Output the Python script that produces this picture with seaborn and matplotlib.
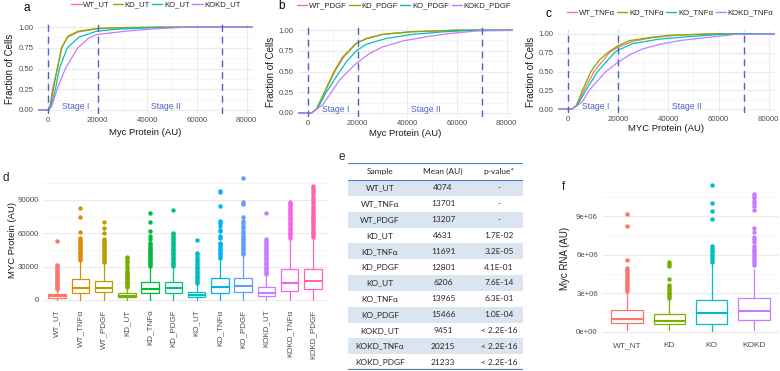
import numpy as np
import pandas as pd
import matplotlib
matplotlib.use("Agg")
import matplotlib.pyplot as plt
import seaborn as sns
from matplotlib.lines import Line2D
from matplotlib.ticker import FixedLocator

# ---------------- DATA ----------------
C4 = ['#F8766D', '#7CAE00', '#00BFC4', '#C77CFF']
C12 = ['#F8766D', '#DE8C00', '#B79F00', '#7CAE00', '#00BA38', '#00C08B',
       '#00BFC4', '#00B4F0', '#619CFF', '#C77CFF', '#F564E3', '#FF64B0']

stage_bounds = [0, 20000, 70000]

# ECDF readings, panel a (untreated)
ut_names = ['WT_UT', 'KD_UT', 'KO_UT', 'KOKD_UT']
wt_ut_x = [-6000, 300, 1000, 1800, 3900, 5400, 8000, 12000, 20000, 30000, 45000, 90000]
wt_ut_y = [0, 0, 0.06, 0.25, 0.50, 0.75, 0.88, 0.94, 0.98, 0.99, 1.0, 1.0]
kd_ut_x = [-6000, 300, 1000, 2200, 3700, 5600, 8000, 12000, 20000, 30000, 45000, 90000]
kd_ut_y = [0, 0, 0.06, 0.25, 0.50, 0.75, 0.89, 0.95, 0.985, 0.995, 1.0, 1.0]
ko_ut_x = [-6000, 300, 1200, 3000, 4600, 7800, 12500, 19500, 28000, 40000, 55000, 90000]
ko_ut_y = [0, 0, 0.05, 0.25, 0.50, 0.75, 0.88, 0.95, 0.975, 0.99, 1.0, 1.0]
kokd_ut_x = [-6000, 300, 1500, 3700, 7000, 12000, 16500, 19500, 31000, 43000, 56000, 90000]
kokd_ut_y = [0, 0, 0.04, 0.25, 0.50, 0.75, 0.87, 0.91, 0.95, 0.98, 1.0, 1.0]

# ECDF readings, panel b (PDGF)
pdgf_names = ['WT_PDGF', 'KD_PDGF', 'KO_PDGF', 'KOKD_PDGF']
wt_pdgf_x = [-6000, 1500, 3500, 6800, 10800, 14300, 19500, 23500, 30000, 41000, 60000, 90000]
wt_pdgf_y = [0, 0, 0.05, 0.25, 0.50, 0.67, 0.84, 0.90, 0.95, 0.98, 1.0, 1.0]
kd_pdgf_x = [-6000, 1500, 3500, 6600, 10500, 13800, 19500, 24000, 30500, 42000, 60000, 90000]
kd_pdgf_y = [0, 0, 0.05, 0.25, 0.50, 0.67, 0.845, 0.90, 0.95, 0.98, 1.0, 1.0]
ko_pdgf_x = [-6000, 1500, 3800, 7400, 12800, 15500, 19500, 23500, 31600, 42400, 54500, 68000, 90000]
ko_pdgf_y = [0, 0, 0.05, 0.25, 0.50, 0.62, 0.75, 0.83, 0.90, 0.95, 0.98, 1.0, 1.0]
kokd_pdgf_x = [-6000, 1500, 6000, 9400, 12800, 16100, 19500, 24900, 30300, 38300, 47700, 57200, 67900, 90000]
kokd_pdgf_y = [0, 0, 0.10, 0.25, 0.40, 0.50, 0.60, 0.72, 0.80, 0.87, 0.92, 0.96, 0.99, 1.0]

# ECDF readings, panel c (TNFa)
tnf_names = ['WT_TNF\u03b1', 'KD_TNF\u03b1', 'KO_TNF\u03b1', 'KOKD_TNF\u03b1']
wt_tnf_x = [-6000, 1500, 3500, 6400, 10400, 16500, 19800, 25800, 33800, 43000, 60000, 90000]
wt_tnf_y = [0, 0, 0.05, 0.25, 0.50, 0.75, 0.82, 0.90, 0.95, 0.98, 1.0, 1.0]
kd_tnf_x = [-6000, 1500, 3300, 5750, 9100, 12400, 15800, 19800, 24500, 32500, 40500, 57000, 90000]
kd_tnf_y = [0, 0, 0.05, 0.25, 0.50, 0.65, 0.75, 0.84, 0.91, 0.95, 0.98, 1.0, 1.0]
ko_tnf_x = [-6000, 1500, 3700, 7100, 11800, 18500, 19800, 25800, 36500, 47200, 60000, 68000, 90000]
ko_tnf_y = [0, 0, 0.05, 0.25, 0.50, 0.75, 0.78, 0.87, 0.93, 0.96, 0.99, 1.0, 1.0]
kokd_tnf_x = [-6000, 1500, 5750, 8400, 12400, 15100, 19800, 24500, 29800, 36500, 44500, 55300, 66000, 90000]
kokd_tnf_y = [0, 0, 0.10, 0.25, 0.40, 0.50, 0.62, 0.72, 0.80, 0.86, 0.91, 0.95, 0.99, 1.0]

# Panel d box statistics (MYC protein)
d_groups = ['WT_UT', 'WT_TNF\u03b1', 'WT_PDGF', 'KD_UT', 'KD_TNF\u03b1', 'KD_PDGF',
            'KO_UT', 'KO_TNF\u03b1', 'KO_PDGF', 'KOKD_UT', 'KOKD_TNF\u03b1', 'KOKD_PDGF']
d_whislo = [100, 200, 200, 100, 200, 200, 100, 200, 200, 100, 300, 300]
d_q1 = [1800, 6600, 6900, 2400, 6600, 6600, 3000, 6600, 6900, 3600, 8400, 9900]
d_med = [3900, 11100, 10500, 3900, 9600, 10500, 4500, 12000, 12600, 6000, 15600, 17100]
d_q3 = [5400, 18600, 17400, 6000, 16200, 16500, 7500, 19500, 20100, 11400, 27600, 27900]
d_whishi = [9500, 35000, 33000, 11000, 29500, 29500, 14000, 37000, 40000, 22000, 55000, 56000]
d_fliers = [
    [10000, 11000, 12500, 13500, 15000, 16000, 17500, 18500, 20000, 21000, 22500, 23500,
     25000, 26000, 27500, 29000, 30500, 31500, 53000],
    [36000, 37500, 39000, 40500, 42000, 43500, 45000, 46500, 48000, 49500, 51000, 52500,
     54000, 55500, 61000, 75000, 83000],
    [34000, 35500, 37000, 38500, 40000, 41500, 43000, 44500, 46000, 47500, 49000, 50500,
     52000, 53500, 55000, 60000, 65000, 70000],
    [12000, 13000, 14000, 15500, 16500, 17500, 19000, 20000, 21000, 22500, 23500, 25000,
     26500, 29000, 31000, 33000, 35500, 37500, 39000],
    [30500, 32000, 33500, 35000, 36500, 38000, 39500, 41000, 42500, 44000, 45500, 47000,
     48500, 50000, 51500, 55000, 58000, 62000, 70000, 78000],
    [30500, 32000, 33500, 35000, 36500, 38000, 39500, 41000, 42500, 44000, 45500, 47000,
     48500, 50000, 51500, 53000, 54500, 56000, 57500, 59000, 60000, 81000],
    [15000, 16500, 18000, 19500, 21000, 22500, 24000, 25500, 27000, 28500, 30000, 31500,
     33000, 35000, 37000, 39000, 41000, 42000, 54000],
    [38000, 39500, 41000, 42500, 44000, 45500, 47000, 48500, 50000, 51500, 56000, 58000,
     62000, 63000, 67000, 69000, 71000, 85000, 97000, 98000],
    [41000, 42500, 44000, 45500, 47000, 48500, 50000, 51500, 53000, 54500, 56000, 58000,
     60000, 62000, 65000, 67000, 69000, 71000, 75000, 86000, 88000, 110000],
    [23000, 24500, 26000, 27500, 29000, 30500, 32000, 33500, 35000, 36500, 38000, 39500,
     41000, 42500, 44000, 45500, 47000, 48500, 50000, 51500, 53000, 55000, 78000],
    [56000, 57500, 59000, 60500, 62000, 63500, 65000, 66500, 68000, 69500, 71000, 72500,
     74000, 75500, 77000, 78500, 80000, 81500, 83000, 84500, 86000, 87500, 88500],
    [57000, 58500, 60000, 61500, 63000, 64500, 66000, 67500, 69000, 70500, 72000, 73500,
     75000, 76500, 78000, 79500, 81000, 83000, 85000, 87000, 89000, 91000, 93000, 95000,
     97000, 99000, 101000, 103000],
]

# Panel e table
e_sample = ['WT_UT', 'WT_TNF\u03b1', 'WT_PDGF', 'KD_UT', 'KD_TNF\u03b1', 'KD_PDGF',
            'KO_UT', 'KO_TNF\u03b1', 'KO_PDGF', 'KOKD_UT', 'KOKD_TNF\u03b1', 'KOKD_PDGF']
e_mean = ['4074', '13701', '13207', '4631', '11691', '12801', '6206', '13965', '15466',
          '9451', '20215', '21233']
e_pval = ['-', '-', '-', '1.7E-02', '3.2E-05', '4.1E-01', '7.6E-14', '6.3E-01', '1.0E-04',
          '< 2.2E-16', '< 2.2E-16', '< 2.2E-16']

# Panel f box statistics (Myc RNA)
f_groups = ['WT_NT', 'KD', 'KO', 'KOKD']
f_whislo = [0.15e6, 0.12e6, 0.08e6, 0.12e6]
f_q1 = [0.65e6, 0.60e6, 0.62e6, 0.90e6]
f_med = [1.00e6, 0.85e6, 1.42e6, 1.58e6]
f_q3 = [1.66e6, 1.37e6, 2.50e6, 2.60e6]
f_whishi = [3.05e6, 2.50e6, 5.30e6, 4.85e6]
f_fliers = [
    [3.15e6, 3.3e6, 3.45e6, 3.6e6, 3.75e6, 3.9e6, 4.05e6, 4.2e6, 4.35e6, 4.5e6, 4.65e6,
     4.8e6, 4.95e6, 5.6e6, 8.25e6, 9.2e6],
    [2.6e6, 2.75e6, 2.9e6, 3.05e6, 3.2e6, 3.35e6, 3.5e6, 3.65e6, 4.1e6, 5.1e6, 5.25e6, 5.4e6],
    [5.45e6, 5.6e6, 5.75e6, 5.9e6, 6.05e6, 6.2e6, 6.35e6, 6.5e6, 6.65e6, 8.8e6, 9.4e6,
     10.0e6, 11.4e6],
    [5.2e6, 5.35e6, 5.5e6, 5.65e6, 5.8e6, 5.95e6, 6.1e6, 6.25e6, 6.4e6, 6.55e6, 6.7e6,
     7.0e6, 7.2e6, 7.4e6, 7.8e6, 8.1e6, 9.5e6, 9.8e6, 10.0e6, 10.2e6, 10.4e6, 10.6e6, 10.7e6],
]

# ---------------- STYLE ----------------
sns.set_theme(style="whitegrid")
plt.rcParams['font.family'] = ['Liberation Sans', 'DejaVu Sans']
GRID = '#EBEBEB'
TICKC = '#4D4D4D'
TITLEC = '#1A1A1A'
STAGEC = '#4F62C4'
TICK_FS = 5.6
TITLE_FS = 6.8

W, H = 780, 371
fig = plt.figure(figsize=(W / 100, H / 100), dpi=100)


def add_ax(left, top, right, bottom):
    return fig.add_axes([left / W, 1 - bottom / H, (right - left) / W, (bottom - top) / H])


def style_ax(ax):
    for s in ax.spines.values():
        s.set_visible(False)
    ax.set_axisbelow(True)
    ax.grid(which='major', color=GRID, lw=0.8)
    ax.grid(which='minor', color='#F3F3F3', lw=0.5)
    ax.tick_params(which='both', length=0, labelsize=TICK_FS, labelcolor=TICKC)
    ax.tick_params(axis='x', pad=2.5)
    ax.tick_params(axis='y', pad=3)


def ecdf_panel(ax, names, xs, ys, xlabel, letter, legend_xy, letter_xy, ylab_x, xlab_y):
    frames = []
    for n, x, y in zip(names, xs, ys):
        frames.append(pd.DataFrame({'x': x, 'y': y, 'g': n}))
    df = pd.concat(frames, ignore_index=True)
    sns.lineplot(data=df, x='x', y='y', hue='g', palette=C4, hue_order=names,
                 estimator=None, sort=True, lw=0.9, legend=False, ax=ax)
    ax.set_xlim(-4000, 82500)
    ax.set_ylim(-0.05, 1.05)
    ax.set_xticks([0, 20000, 40000, 60000, 80000])
    ax.set_xticklabels(['0', '20000', '40000', '60000', '80000'])
    ax.set_yticks([0, 0.25, 0.5, 0.75, 1.0])
    ax.set_yticklabels(['0.00', '0.25', '0.50', '0.75', '1.00'])
    ax.xaxis.set_minor_locator(FixedLocator([10000, 30000, 50000, 70000]))
    ax.yaxis.set_minor_locator(FixedLocator([0.125, 0.375, 0.625, 0.875]))
    style_ax(ax)
    for b in stage_bounds:
        ax.axvline(b, color=STAGEC, lw=1.0, ls=(0, (5, 3.5)))
    ax.text(11000, 0.035, 'Stage I', color=STAGEC, fontsize=6.2, ha='center', va='center')
    ax.text(47300, 0.035, 'Stage II', color=STAGEC, fontsize=6.2, ha='center', va='center')
    ax.set_xlabel(xlabel, fontsize=TITLE_FS, color=TITLEC)
    ax.set_ylabel('Fraction of Cells', fontsize=7.0, color=TITLEC)
    ax.yaxis.set_label_coords(ylab_x, 0.5)
    ax.xaxis.set_label_coords(0.5, xlab_y)
    handles = [Line2D([0], [0], color=c, lw=1.0) for c in C4]
    fig.legend(handles, names, loc='center', bbox_to_anchor=legend_xy,
               bbox_transform=fig.transFigure, ncol=4, frameon=False, fontsize=5.6,
               handlelength=1.3, handletextpad=0.2, columnspacing=0.35,
               borderpad=0, borderaxespad=0)
    fig.text(letter_xy[0] / W, 1 - letter_xy[1] / H, letter, fontsize=8.5,
             ha='center', va='center', color='black')


# Panel a
ax_a = add_ax(38, 23, 253, 114)
ecdf_panel(ax_a, ut_names, [wt_ut_x, kd_ut_x, ko_ut_x, kokd_ut_x],
           [wt_ut_y, kd_ut_y, ko_ut_y, kokd_ut_y], 'Myc Protein (AU)', 'a',
           (156 / W, 1 - 5 / H), (27, 8), -0.105, -0.15)

# Panel b
ax_b = add_ax(298, 26, 513, 117)
ecdf_panel(ax_b, pdgf_names, [wt_pdgf_x, kd_pdgf_x, ko_pdgf_x, kokd_pdgf_x],
           [wt_pdgf_y, kd_pdgf_y, ko_pdgf_y, kokd_pdgf_y], 'Myc Protein (AU)', 'b',
           (404 / W, 1 - 6 / H), (282, 6), -0.1, -0.13)

# Panel c
ax_c = add_ax(558, 30, 775, 113)
ecdf_panel(ax_c, tnf_names, [wt_tnf_x, kd_tnf_x, ko_tnf_x, kokd_tnf_x],
           [wt_tnf_y, kd_tnf_y, ko_tnf_y, kokd_tnf_y], 'MYC Protein (AU)', 'c',
           (670 / W, 1 - 13 / H), (548, 14), -0.1, -0.133)


def box_panel(ax, groups, whislo, q1, med, q3, whishi, fliers, colors):
    stats = [dict(label=g, whislo=a, q1=b, med=c, q3=d, whishi=e, fliers=f)
             for g, a, b, c, d, e, f in zip(groups, whislo, q1, med, q3, whishi, fliers)]
    pos = list(range(1, len(groups) + 1))
    art = ax.bxp(stats, positions=pos, widths=0.75, showcaps=False, patch_artist=True,
                 manage_ticks=False)
    for i, col in enumerate(colors):
        art['boxes'][i].set(facecolor='white', edgecolor=col, lw=0.9, alpha=1)
        art['medians'][i].set(color=col, lw=1.5)
        art['whiskers'][2 * i].set(color=col, lw=0.9)
        art['whiskers'][2 * i + 1].set(color=col, lw=0.9)
        art['fliers'][i].set(marker='o', markerfacecolor=col, markeredgecolor=col,
                             markersize=3.2, markeredgewidth=0, alpha=1)
    ax.set_xlim(0.4, len(groups) + 0.6)
    ax.set_xticks(pos)
    style_ax(ax)
    ax.grid(axis='x', which='both', visible=False)
    ax.grid(axis='y', which='major', color=GRID, lw=0.8)
    ax.grid(axis='y', which='minor', color='#F3F3F3', lw=0.5)


# Panel d
ax_d = add_ax(43, 174, 327, 306)
box_panel(ax_d, d_groups, d_whislo, d_q1, d_med, d_q3, d_whishi, d_fliers, C12)
ax_d.set_ylim(-5400, 113400)
ax_d.set_yticks([0, 30000, 60000, 90000])
ax_d.set_yticklabels(['0', '30000', '60000', '90000'])
ax_d.yaxis.set_minor_locator(FixedLocator([15000, 45000, 75000, 105000]))
ax_d.set_xticklabels(d_groups, rotation=90, fontsize=5.8)
ax_d.set_ylabel('MYC Protein (AU)', fontsize=TITLE_FS, color=TITLEC)
ax_d.yaxis.set_label_coords(-0.092, 0.5)
fig.text(6 / W, 1 - 178 / H, 'd', fontsize=8.5, ha='center', va='center')

# Panel e (table)
ax_e = add_ax(348, 163, 523, 370)
ax_e.axis('off')
hdr = 17 / 15.8
ax_e.set_xlim(0, 1)
ax_e.set_ylim(len(e_sample), -hdr)
for i in range(0, len(e_sample), 2):
    ax_e.axhspan(i, i + 1, color='#DBE5F1', lw=0)
ax_e.axhline(-hdr, color='#4F81BD', lw=1.6)
ax_e.axhline(0, color='#4F81BD', lw=0.8)
ax_e.axhline(len(e_sample), color='#4F81BD', lw=1.6)
col_x = [0.183, 0.543, 0.863]
tfam = ['Lato', 'DejaVu Sans']
for cx, head in zip(col_x, ['Sample', 'Mean (AU)', 'p-value*']):
    ax_e.text(cx, -hdr / 2, head, ha='center', va='center', fontsize=6.0, family=tfam)
for i, (s, m, p) in enumerate(zip(e_sample, e_mean, e_pval)):
    for cx, t in zip(col_x, [s, m, p]):
        ax_e.text(cx, i + 0.5, t, ha='center', va='center', fontsize=6.0, family=tfam)
fig.text(342 / W, 1 - 157 / H, 'e', fontsize=8.5, ha='center', va='center')

# Panel f
ax_f = add_ax(602, 178, 779, 339)
box_panel(ax_f, f_groups, f_whislo, f_q1, f_med, f_q3, f_whishi, f_fliers, C4)
ax_f.set_ylim(-0.57e6, 11.97e6)
ax_f.set_yticks([0, 3e6, 6e6, 9e6])
ax_f.set_yticklabels(['0e+00', '3e+06', '6e+06', '9e+06'])
ax_f.yaxis.set_minor_locator(FixedLocator([1.5e6, 4.5e6, 7.5e6, 10.5e6]))
ax_f.set_xticklabels(f_groups, fontsize=6.0)
ax_f.set_ylabel('Myc RNA (AU)', fontsize=7.0, color=TITLEC)
ax_f.yaxis.set_label_coords(-0.18, 0.5)
fig.text(563 / W, 1 - 187 / H, 'f', fontsize=8.5, ha='center', va='center')

fig.savefig('out.png', dpi=100)
